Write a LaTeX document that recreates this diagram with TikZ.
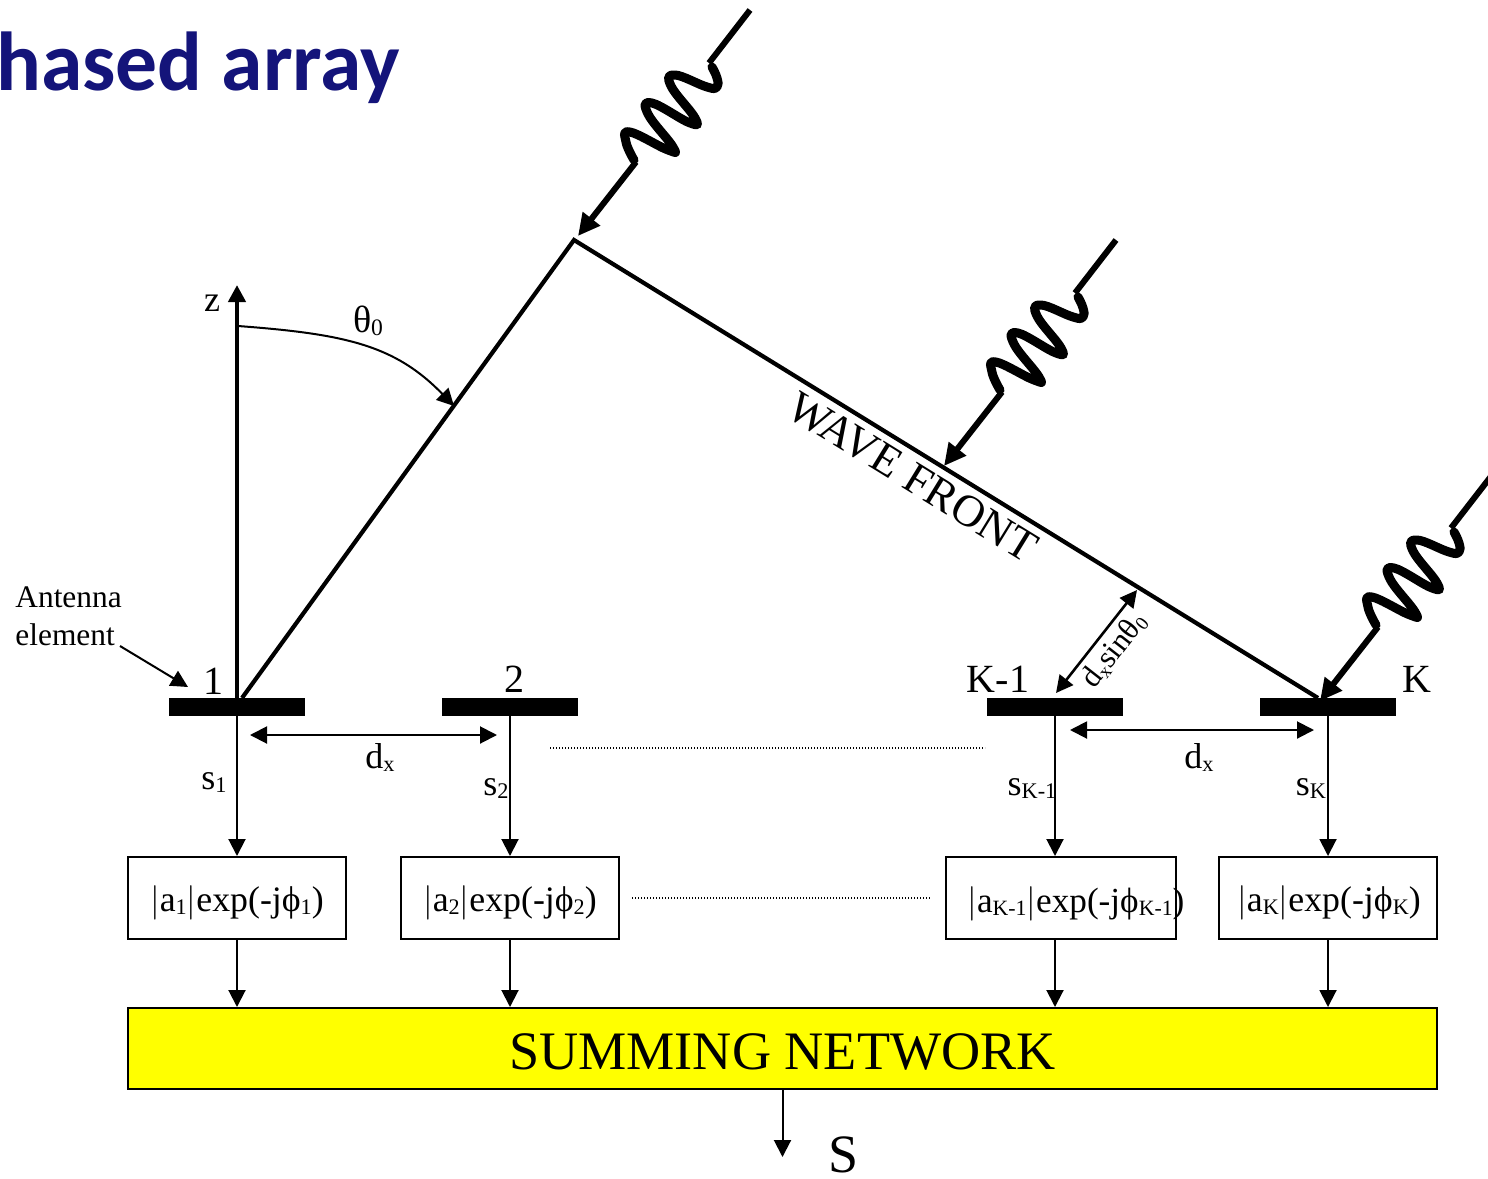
\documentclass[tikz,border=0pt]{standalone}
\usepackage{fontspec}
\setmainfont{Liberation Serif}
\newfontfamily\titlefont{Carlito}
\usetikzlibrary{arrows.meta}
\definecolor{titleblue}{HTML}{14147A}
\definecolor{sumyellow}{RGB}{255,255,0}
\newcommand{\lowsub}[1]{\raisebox{-0.22ex}{\scalebox{0.62}{#1}}}
\tikzset{
  x=0.5pt,y=-0.5pt,
  tip/.style={-{Triangle[length=8.5pt,width=8.5pt]}},
  bothtip/.style={{Triangle[length=8.5pt,width=8.5pt]}-{Triangle[length=8.5pt,width=8.5pt]}},
  thinline/.style={line width=1pt},
  thickline/.style={line width=2.1pt},
  element/.style={fill=black,draw=none,minimum width=68pt,minimum height=9pt,inner sep=0pt},
  phasebox/.style={draw=black,line width=1pt,fill=white,minimum width=109pt,minimum height=41pt,inner sep=0pt,text height=13pt,text depth=0pt,font=\fontsize{17.9}{20}\selectfont},
  lab/.style={inner sep=0pt,anchor=base,font=\fontsize{18}{20}\selectfont},
  numlab/.style={inner sep=0pt,anchor=base,font=\fontsize{20}{22}\selectfont},
  biglab/.style={inner sep=0pt,anchor=base,font=\fontsize{27}{30}\selectfont},
  dotline/.style={line width=0.6pt,dash pattern=on 0.7pt off 0.8pt},
  wavy/.style={line width=4.5pt,line cap=round,line join=round},
  ray/.style={line width=3pt,-{Triangle[length=11pt,width=10.5pt]}},
  rayend/.style={line width=3pt},
  pics/incoming/.style={code={
    \draw[rayend] (0,0) -- (-41,53);
    \draw[wavy] plot[smooth,tension=0.75] coordinates {(-38,57) (-33,68) (-33,77) (-43,77) (-75,65) (-79,76) (-55,108) (-60,113) (-98,93) (-102,104) (-77,137) (-82,140) (-120,122) (-124,132) (-116,150)};
    \draw[ray] (-114,152) -- (-172,226);
  }}
}
\begin{document}
\begin{tikzpicture}
\useasboundingbox (0,0) rectangle (1488,1178);
\clip (0,0) rectangle (1488,1178);

% title
\node[inner sep=0pt,anchor=base west,text=titleblue,font=\titlefont\bfseries\fontsize{41.8}{43}\selectfont] (title) at (-4,90.5) {hased array};

% antenna elements
\node[element] (e1) at (237,707) {};
\node[element] (e2) at (510,707) {};
\node[element] (e3) at (1055,707) {};
\node[element] (e4) at (1328,707) {};

% weighting boxes
\node[phasebox,minimum width=109pt] (b1) at (237,898) {$\vert$a\lowsub{1}$\vert$exp(-jϕ\lowsub{1})};
\node[phasebox,minimum width=109pt] (b2) at (510,898) {$\vert$a\lowsub{2}$\vert$exp(-jϕ\lowsub{2})};
\node[phasebox,minimum width=115pt] (b3) at (1061,898) {};
\node[lab,anchor=base west,font=\fontsize{17.6}{20}\selectfont] (b3t) at (967,912) {$\vert$a\lowsub{K-1}$\vert$exp(-jϕ\lowsub{K-1})};
\node[phasebox,minimum width=109pt] (b4) at (1328,898) {\hspace{1pt}$\vert$a\lowsub{K}$\vert$exp(-jϕ\lowsub{K})};

% summing network
\node[draw=black,line width=1pt,fill=sumyellow,minimum width=654.5pt,minimum height=40.5pt,inner sep=0pt,text height=20.5pt,text depth=0pt,font=\fontsize{27.1}{30}\selectfont] (sum) at (782.5,1048.5) {SUMMING NETWORK};

% free ends
\coordinate (ztop) at (237,285);
\coordinate (arcstart) at (238,326);
\coordinate (apex) at (574,240);
\coordinate (arcend) at (454,406);
\coordinate (footone) at (242,698);
\coordinate (footk) at (1318,698);
\coordinate (out) at (782.5,1157);
\coordinate (d1a) at (250,735);
\coordinate (d1b) at (497,735);
\coordinate (d2a) at (1070,730);
\coordinate (d2b) at (1314,730);
\coordinate (sa) at (1056,693);
\coordinate (sb) at (1137,590);
\coordinate (anta) at (120,646);
\coordinate (antb) at (188,687);
\coordinate (dot1a) at (550,748);
\coordinate (dot1b) at (985,748);
\coordinate (dot2a) at (632,898);
\coordinate (dot2b) at (930,898);

% axis, wavefront
\draw[thickline,-{Triangle[length=8.5pt,width=8.5pt]}] (e1.north) -- (ztop);
\draw[thickline,line join=miter] (footone) -- (apex) -- (footk);
\draw[thinline,tip] (arcstart) .. controls (345,334) and (395,345) .. (arcend);

% incoming waves
\pic at (750,10) {incoming};
\pic at (1116,240) {incoming};
\pic at (1492,475) {incoming};

% signal lines
\foreach \i in {1,2,3,4}{
  \draw[thinline,tip] (e\i.south) -- (e\i.south |- b\i.north);
  \draw[thinline,tip] (e\i.south |- b\i.south) -- (e\i.south |- sum.north);
}
\draw[thinline,tip] (sum.south) -- (out);

% dimensions
\draw[thinline,bothtip] (d1a) -- (d1b);
\draw[thinline,bothtip] (d2a) -- (d2b);
\draw[line width=1.3pt,bothtip] (sa) -- (sb);
\draw[thinline,tip] (anta) -- (antb);
\draw[dotline] (dot1a) -- (dot1b);
\draw[dotline] (dot2a) -- (dot2b);

% labels
\node[lab] (lz) at (212,311) {z};
\node[lab,font=\fontsize{19}{21}\selectfont] (ltheta) at (368,332) {θ\lowsub{0}};
\node[lab,anchor=base west,font=\fontsize{15.7}{17}\selectfont] (lant) at (15,607) {Antenna};
\node[lab,anchor=base west,font=\fontsize{15.7}{17}\selectfont] (lel) at (15,645) {element};
\node[numlab] (n1) at (213,694) {1};
\node[numlab] (n2) at (514,692) {2};
\node[numlab] (n3) at (998,692) {K-1};
\node[numlab] (n4) at (1417,692) {K};
\node[lab] (dx1) at (380,768) {d\lowsub{x}};
\node[lab] (dx2) at (1199,768) {d\lowsub{x}};
\node[lab] (s1) at (214,789) {s\lowsub{1}};
\node[lab] (s2) at (496,795) {s\lowsub{2}};
\node[lab] (s3) at (1032,795) {s\lowsub{K-1}};
\node[lab] (s4) at (1311,795) {s\lowsub{K}};
\node[inner sep=0pt,rotate=-31.6,font=\fontsize{22.5}{24}\selectfont] (wf) at (913,477) {WAVE FRONT};
\node[inner sep=0pt,rotate=52,font=\fontsize{15.5}{17}\selectfont] (ds) at (1114,650) {d\lowsub{x}sinθ\lowsub{0}};
\node[biglab] (ls) at (844,1172) {S};
\end{tikzpicture}
\end{document}
